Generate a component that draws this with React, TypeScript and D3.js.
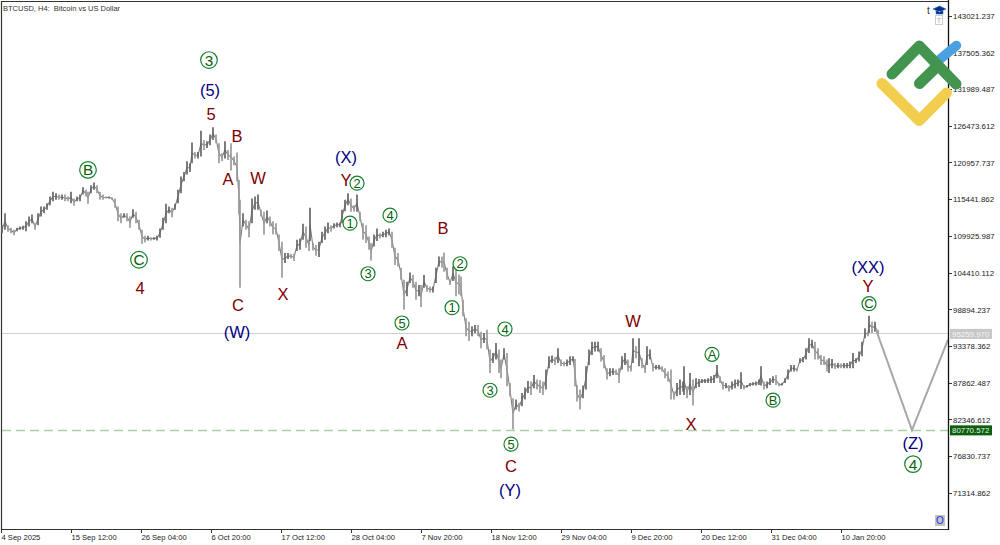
import * as d3 from "d3";

const WIDTH = 1000;
const HEIGHT = 545;

// bar numbers and prices in thousands of USD
const barNos = [
  1, 4, 7, 10, 13, 16, 19, 22, 25, 28,
  31, 34, 37, 40, 43, 46, 49, 52, 55, 58,
  61, 64, 67, 70, 73, 76, 79, 82, 85, 87,
  90, 93, 96, 99, 102, 105, 108, 111, 114, 117,
  120, 123, 126, 129, 132, 135, 138, 141, 144, 147,
  150, 153, 156, 159, 162, 165, 168, 171, 174, 177,
  180, 183, 186, 189, 191, 194, 197, 200, 203, 206,
  209, 212, 215, 218, 221, 224, 227, 230, 233, 236,
  238, 239, 242, 245, 248, 251, 254, 257, 260, 263,
  266, 269, 272, 275, 278, 281, 284, 287, 290, 293,
  296, 299, 302, 305, 308, 309, 312, 315, 318, 321,
  324, 327, 330, 333, 336, 339, 341, 344, 347, 350,
  353, 356, 359, 362, 365, 368, 370, 373, 376, 379,
  382, 385, 388, 391, 394, 397, 400, 403, 406, 409,
  412, 415, 418, 420, 423, 426, 429, 432, 435, 438,
  441, 443, 446, 449, 452, 455, 458, 460, 462, 465,
  468, 471, 474, 477, 480, 483, 486, 489, 492, 495,
  498, 500, 503, 506, 509, 512, 515, 518, 521, 524,
  527, 530, 533, 536, 539, 542, 545, 548, 551, 554,
  557, 560, 563, 566, 569, 572, 574, 576, 579, 582,
  585, 588, 591, 594, 597, 600, 603, 606, 609, 612,
  615, 618, 621, 624, 627, 630, 632, 635, 638, 641,
  644, 646, 649, 652, 655, 658, 661, 664, 667, 670,
  673, 676, 679, 682, 683, 686, 689, 692, 695, 698,
  701, 704, 707, 710, 713, 716, 719, 722, 725, 728,
  731, 734, 737, 740, 743, 746, 749, 752, 755, 758,
  760, 763, 766, 769, 772, 775, 778, 781, 784, 787,
  790, 793, 796, 799, 802, 805, 808, 811, 814, 817,
  820, 823, 826, 828, 831, 834, 837, 840, 843, 846,
  849, 852, 855, 858, 861, 864, 867, 868, 871, 874,
  877,
];

const highs = [
  111.6, 113.4, 111.6, 111.2, 110.9, 111.2, 111.4, 111.5, 112.2, 112.9,
  113.2, 111.9, 113.4, 114.4, 114.4, 114.9, 115.9, 116.6, 116.4, 116.2,
  116.2, 116.2, 115.9, 116.6, 115.6, 115.9, 116.2, 117.3, 116.9, 116.6,
  117.6, 118.0, 117.6, 116.6, 116.2, 115.9, 115.9, 115.8, 115.6, 114.4,
  113.4, 113.4, 113.4, 112.9, 114.0, 113.6, 112.4, 110.9, 110.0, 110.0,
  109.8, 109.8, 110.0, 111.1, 112.7, 114.8, 114.4, 114.2, 114.8, 116.9,
  118.9, 119.6, 121.2, 120.9, 124.0, 122.6, 122.6, 125.8, 124.4, 124.2,
  125.2, 126.3, 125.2, 123.9, 122.4, 124.2, 122.9, 123.9, 121.9, 122.5,
  118.4, 115.4, 113.4, 112.4, 112.2, 115.6, 115.9, 116.2, 113.9, 113.6,
  113.8, 112.9, 112.2, 111.9, 110.2, 109.1, 107.4, 107.4, 107.3, 107.3,
  109.4, 109.6, 111.8, 111.4, 109.4, 114.2, 108.9, 108.6, 109.1, 110.6,
  111.4, 112.0, 111.6, 111.9, 112.0, 112.0, 113.9, 115.4, 116.4, 115.6,
  114.6, 116.2, 113.6, 111.9, 111.6, 109.9, 108.9, 110.2, 111.1, 110.4,
  110.6, 110.9, 111.1, 110.6, 108.2, 107.4, 105.2, 103.4, 103.1, 104.5,
  104.1, 103.1, 102.6, 102.6, 104.1, 102.6, 102.4, 102.4, 105.2, 106.9,
  106.9, 107.5, 105.2, 103.4, 105.4, 105.2, 104.2, 103.9, 100.4, 97.6,
  97.1, 96.4, 96.6, 96.6, 95.6, 95.4, 95.9, 92.9, 92.4, 93.9,
  92.9, 91.4, 93.1, 92.4, 87.9, 85.6, 85.4, 84.9, 86.4, 87.2,
  88.2, 88.1, 89.1, 88.4, 88.3, 88.1, 89.9, 91.9, 92.0, 91.8,
  93.1, 91.4, 91.1, 91.4, 91.9, 91.9, 91.5, 87.6, 86.9, 87.5,
  90.4, 92.9, 94.1, 94.1, 94.1, 93.1, 92.1, 90.1, 90.1, 90.1,
  89.9, 90.1, 91.9, 92.4, 91.4, 90.6, 94.6, 93.4, 94.6, 91.6,
  90.6, 93.4, 92.9, 90.9, 90.6, 90.6, 90.4, 90.1, 89.6, 89.9,
  86.6, 87.9, 88.4, 88.1, 90.4, 87.4, 89.4, 88.4, 88.6, 88.5,
  88.5, 88.5, 88.6, 88.9, 89.1, 90.6, 88.9, 88.1, 87.9, 87.6,
  88.1, 88.4, 88.4, 89.5, 87.6, 87.6, 87.9, 88.0, 88.1, 88.4,
  90.4, 88.1, 88.1, 88.6, 88.9, 89.1, 87.9, 87.9, 88.6, 89.9,
  90.6, 90.6, 90.1, 91.6, 91.8, 93.1, 94.6, 94.4, 94.1, 93.1,
  92.1, 91.9, 91.4, 91.6, 91.5, 90.9, 90.9, 90.8, 90.9, 90.9,
  91.1, 92.4, 91.6, 92.6, 94.1, 96.1, 95.6, 98.0, 97.1, 97.1,
  95.9,
];

const lows = [
  110.4, 110.9, 110.6, 110.4, 110.1, 110.7, 110.9, 110.9, 110.7, 111.4,
  111.9, 110.9, 111.6, 112.9, 113.4, 113.9, 114.6, 115.2, 115.4, 115.4,
  115.4, 115.2, 115.2, 114.9, 114.5, 115.2, 115.2, 116.2, 115.9, 114.8,
  116.4, 116.9, 116.4, 115.4, 115.4, 115.6, 115.6, 115.4, 114.2, 112.2,
  111.9, 112.7, 112.2, 111.2, 112.7, 111.9, 110.9, 108.8, 109.0, 109.3,
  109.3, 109.4, 109.3, 109.7, 110.9, 111.9, 113.4, 112.8, 113.9, 114.9,
  116.4, 118.2, 119.2, 119.6, 120.9, 121.6, 121.6, 121.9, 122.9, 123.2,
  123.6, 124.4, 123.9, 120.9, 121.2, 121.6, 121.4, 119.8, 120.6, 118.2,
  113.2, 102.2, 111.4, 110.9, 109.8, 111.9, 113.9, 113.9, 112.9, 110.2,
  111.9, 111.4, 110.2, 110.2, 107.7, 103.7, 105.9, 106.5, 106.6, 106.2,
  107.7, 107.9, 109.4, 108.2, 107.7, 109.2, 107.8, 107.0, 106.8, 108.9,
  109.4, 110.4, 110.6, 111.1, 111.3, 111.3, 111.9, 113.7, 114.6, 113.6,
  113.6, 113.6, 112.2, 109.4, 108.9, 107.9, 106.3, 108.4, 109.2, 109.6,
  109.8, 109.8, 110.1, 108.2, 105.6, 105.4, 103.4, 98.9, 100.9, 102.9,
  102.2, 100.4, 100.9, 99.3, 102.2, 101.6, 101.5, 101.5, 102.9, 105.4,
  105.2, 104.6, 103.4, 102.6, 103.2, 100.9, 101.2, 100.9, 97.9, 94.9,
  94.2, 94.9, 95.4, 94.9, 93.1, 93.9, 92.9, 89.4, 90.9, 91.4,
  89.4, 88.6, 91.4, 87.4, 85.9, 80.9, 83.9, 83.6, 84.4, 85.4,
  86.4, 86.1, 87.1, 86.9, 86.4, 86.1, 86.9, 90.1, 90.9, 90.6,
  90.9, 90.4, 90.4, 90.4, 90.6, 91.1, 87.4, 85.1, 83.9, 85.6,
  86.9, 90.6, 92.1, 92.6, 92.6, 91.1, 90.1, 88.4, 88.9, 89.1,
  89.1, 87.9, 89.9, 90.6, 89.6, 89.6, 90.9, 91.6, 90.4, 90.1,
  89.4, 90.6, 91.4, 89.6, 89.9, 89.9, 89.6, 88.6, 88.1, 85.4,
  85.4, 85.9, 86.1, 86.6, 86.1, 85.6, 86.1, 84.5, 87.1, 87.3,
  87.9, 87.9, 87.9, 87.9, 87.9, 88.6, 87.9, 86.9, 87.1, 86.6,
  86.9, 87.1, 87.4, 87.0, 86.9, 87.2, 87.4, 87.5, 87.5, 87.6,
  87.5, 86.9, 87.1, 87.6, 87.9, 87.6, 87.4, 87.5, 87.9, 88.4,
  89.6, 89.6, 89.6, 90.9, 91.0, 91.4, 92.4, 93.1, 91.4, 91.4,
  90.6, 90.6, 89.6, 89.4, 90.1, 90.0, 90.1, 90.1, 90.1, 90.1,
  90.1, 90.1, 90.9, 91.1, 91.9, 94.6, 94.9, 95.4, 95.4, 95.6,
  95.1,
];

const forecastBars = [875, 911, 947];
const forecastPrices = [95.9, 80.8, 94.4];

const lastPrice = 95259.97;
const targetPrice = 80770.572;

const priceTicks = [
  143021.237, 137505.362, 131989.487, 126473.612, 120957.737, 115441.862, 109925.987,
  104410.112, 98894.237, 93378.362, 87862.487, 82346.612, 76830.737, 71314.862,
];

const dateBars = [0, 70, 140, 210, 280, 350, 420, 490, 560, 630, 700, 770, 840];
const dateLabels = [
  "4 Sep 2025", "15 Sep 12:00", "26 Sep 04:00", "6 Oct 20:00", "17 Oct 12:00", "28 Oct 04:00",
  "7 Nov 20:00", "18 Nov 12:00", "29 Nov 04:00", "9 Dec 20:00", "20 Dec 12:00", "31 Dec 04:00",
  "10 Jan 20:00",
];

// wave labels, one set of arrays per degree
const navyTexts = ["(5)", "(X)", "(W)", "(Y)", "(XX)", "(Z)"];
const navyBars = [209, 345, 236, 509, 867, 912];
const navyPrices = [131.9, 121.8, 95.6, 71.8, 105.3, 78.9];

const redTexts = ["5", "B", "A", "W", "4", "C", "X", "Y", "B", "A", "C", "W", "X", "Y"];
const redBars = [210, 236, 227, 257, 139, 237, 282, 345, 442, 401, 510, 632, 690, 867];
const redPrices = [128.3, 125.0, 118.5, 118.7, 102.2, 99.6, 101.3, 118.4, 111.2, 93.9, 75.4, 97.2, 81.7, 102.5];

const bigRingTexts = ["3", "B", "C", "4"];
const bigRingBars = [208, 87, 138, 912];
const bigRingPrices = [136.4, 119.9, 106.4, 75.7];

const smallRingTexts = ["1", "2", "3", "4", "5", "1", "2", "3", "4", "5", "A", "B", "C"];
const smallRingBars = [349, 356, 367, 389, 401, 451, 459, 489, 504, 510, 711, 772, 868];
const smallRingPrices = [111.9, 117.9, 104.3, 113.1, 96.9, 99.2, 105.8, 86.8, 96.0, 78.7, 92.2, 85.3, 99.8];

const SANS = "'Liberation Sans', Arial, sans-serif";

const x = d3.scaleLinear().domain([0, 947]).range([1, 948]);
const y = d3.scaleLinear().domain([143021.237, 71314.862]).range([16, 493.3]);
const yk = (k: number) => y(k * 1000);
const crisp = (v: number) => Math.floor(v) + 0.5;

const mids = barNos.map((_, i) => (highs[i] + lows[i]) / 2);

const midLine = d3
  .line<number>()
  .x((_, i) => x(barNos[i]))
  .y((d) => yk(d));

const forecastLine = d3
  .line<number>()
  .x((_, i) => x(forecastBars[i]))
  .y((d) => yk(d));

function WaveText({ text, bar, price, color }: { text: string; bar: number; price: number; color: string }) {
  return (
    <text x={x(bar)} y={yk(price)} dy="0.36em" textAnchor="middle" fontSize={16.5} fill={color} fontFamily={SANS}>
      {text}
    </text>
  );
}

function Ring({ text, bar, price, r }: { text: string; bar: number; price: number; r: number }) {
  return (
    <g>
      <circle cx={x(bar)} cy={yk(price)} r={r} fill="#fff" stroke="#14802a" strokeWidth={1.2} />
      <text
        x={x(bar)}
        y={yk(price)}
        dy="0.36em"
        textAnchor="middle"
        fontSize={r * 1.85}
        fill="#0b5f0b"
        fontFamily={SANS}
      >
        {text}
      </text>
    </g>
  );
}

export default function App() {
  return (
    <svg
      width={WIDTH}
      height={HEIGHT}
      viewBox={`0 0 ${WIDTH} ${HEIGHT}`}
      style={{ position: "absolute", left: 0, top: 0, background: "#fff" }}
    >
      <path d="M948.5,1.5 H1.5 V529.5 H948.5" fill="none" stroke="#333" strokeWidth={1.2} />

      <text x={3} y={10.5} fontSize={7.5} fill="#333" fontFamily={SANS} style={{ whiteSpace: "pre" }}>
        BTCUSD, H4:  Bitcoin vs US Dollar
      </text>

      {/* last price and target lines */}
      <line x1={2} x2={948} y1={crisp(y(lastPrice))} y2={crisp(y(lastPrice))} stroke="#cfcfcf" strokeWidth={1} />
      <line
        x1={2}
        x2={948}
        y1={crisp(y(targetPrice))}
        y2={crisp(y(targetPrice))}
        stroke="#a9cfa9"
        strokeWidth={1.6}
        strokeDasharray="9,5"
      />

      {/* price bars */}
      <path d={midLine(mids) ?? ""} fill="none" stroke="#7f7f7f" strokeWidth={1.1} />
      {barNos.map((bar, i) => (
        <line
          key={bar}
          x1={x(bar)}
          x2={x(bar)}
          y1={yk(highs[i])}
          y2={yk(lows[i])}
          stroke={i > 0 && mids[i] < mids[i - 1] ? "#9a9a9a" : "#666"}
          strokeWidth={1.7}
        />
      ))}

      <path d={forecastLine(forecastPrices) ?? ""} fill="none" stroke="#a8a8a8" strokeWidth={2} />

      {navyTexts.map((t, i) => (
        <WaveText key={i} text={t} bar={navyBars[i]} price={navyPrices[i]} color="#000080" />
      ))}
      {redTexts.map((t, i) => (
        <WaveText key={i} text={t} bar={redBars[i]} price={redPrices[i]} color="#800000" />
      ))}
      {bigRingTexts.map((t, i) => (
        <Ring key={i} text={t} bar={bigRingBars[i]} price={bigRingPrices[i]} r={8.3} />
      ))}
      {smallRingTexts.map((t, i) => (
        <Ring key={i} text={t} bar={smallRingBars[i]} price={smallRingPrices[i]} r={7} />
      ))}

      {/* right axis */}
      <line x1={948.5} x2={948.5} y1={0} y2={530} stroke="#111" strokeWidth={1.3} />
      {priceTicks.map((t) => (
        <g key={t}>
          <line x1={949} x2={952} y1={crisp(y(t))} y2={crisp(y(t))} stroke="#333" />
          <text x={953} y={y(t)} dy="0.36em" fontSize={7.9} fill="#222" fontFamily={SANS}>
            {d3.format(".3f")(t)}
          </text>
        </g>
      ))}
      <rect x={950} y={y(lastPrice) - 5} width={42} height={10} fill="#c8c8c8" />
      <text x={952} y={y(lastPrice)} dy="0.36em" fontSize={7.9} fill="#f4f4f4" fontFamily={SANS}>
        {d3.format(".3f")(lastPrice)}
      </text>
      <rect x={950} y={y(targetPrice) - 5} width={42} height={10} fill="#0b5f0b" />
      <text x={952} y={y(targetPrice)} dy="0.36em" fontSize={7.9} fill="#e8f2e8" fontFamily={SANS}>
        {d3.format(".3f")(targetPrice)}
      </text>

      {/* bottom axis */}
      {dateBars.map((b, i) => (
        <g key={b}>
          <line x1={x(b) + 0.5} x2={x(b) + 0.5} y1={530} y2={533} stroke="#333" />
          <text x={x(b) + 0.5} y={540} fontSize={7.6} fill="#222" fontFamily={SANS}>
            {dateLabels[i]}
          </text>
        </g>
      ))}

      {/* status icons */}
      <text x={927} y={14} fontSize={10} fill="#333" fontFamily={SANS}>t</text>
      <path d="M933,9 L939.5,6 L946,9 L939.5,12 Z M936,11 V14 H943 V11" fill="#0b2f7a" stroke="#1e6be0" strokeWidth={0.6} />
      <rect x={935.5} y={15.5} width={7} height={9} fill="#fff" stroke="#ccc" />
      <text x={939} y={23} textAnchor="middle" fontSize={8} fill="#aaa" fontFamily={SANS}>T</text>
      <rect x={935} y={515} width={10} height={11} fill="#c4c4c4" />
      <text x={940} y={524} textAnchor="middle" fontSize={10} fill="#1a2fe0" fontFamily={SANS}>O</text>

      {/* logo */}
      <g fill="none" strokeLinecap="round" strokeLinejoin="round">
        <path d="M939,60 L956.5,45.5" stroke="#4aa0e0" strokeWidth={9.5} />
        <path d="M892,74 L919.3,46 L956,84" stroke="#42944e" strokeWidth={11} />
        <path d="M919.5,83.5 L937,66.5" stroke="#42944e" strokeWidth={11} />
        <path d="M882,83.5 L919.3,120.5 L946.5,93" stroke="#f2cd4e" strokeWidth={11} />
      </g>
    </svg>
  );
}
